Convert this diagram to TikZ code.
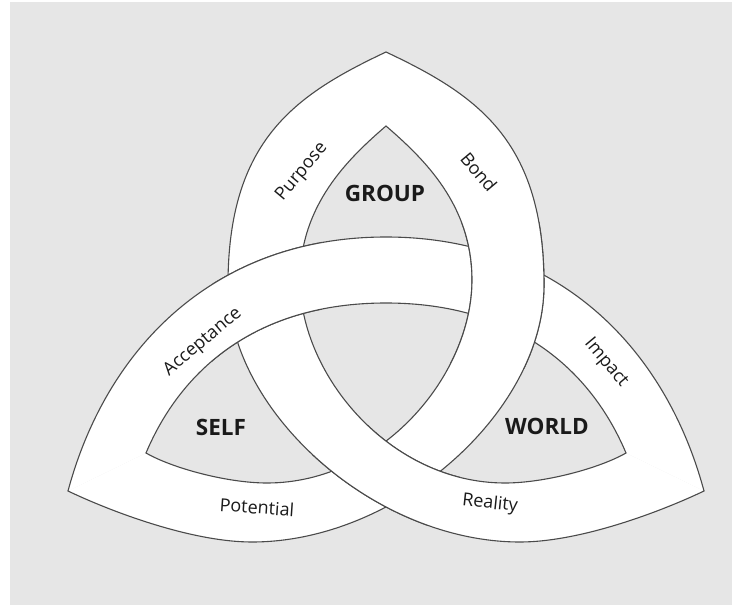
\documentclass[tikz,border=0pt]{standalone}
\usepackage{fontspec}
\setmainfont{Open Sans}[Kerning=Off]
\definecolor{bggray}{HTML}{E6E6E6}
\definecolor{linegray}{HTML}{4A4A4A}
\definecolor{txt}{HTML}{1A1A1A}
% curves (image pixels, y downwards)
\def\Pout{(386,52) .. controls (295.5,94.7) and (228,140) .. (228,285) .. controls (228,411) and (374,542) .. (520,542) .. controls (580,542) and (660,512) .. (704,491)}
\def\PinR{(626,453) .. controls (600,468) and (545,483) .. (505,483) .. controls (390,483) and (300,375) .. (300,280) .. controls (300,205) and (348.1,158.7) .. (386,126)}
\def\Bout{(386,52) .. controls (476.5,94.7) and (544,140) .. (544,285) .. controls (544,411) and (398,542) .. (252,542) .. controls (192,542) and (112,512) .. (68,491)}
\def\BinR{(146,453) .. controls (172,468) and (227,483) .. (267,483) .. controls (382,483) and (472,375) .. (472,280) .. controls (472,205) and (423.9,158.7) .. (386,126)}
\def\Aout{(68,491) .. controls (107,346) and (216,237) .. (386,237) .. controls (556,237) and (665,346) .. (704,491)}
\def\AinR{(626,453) .. controls (591,370) and (516,303) .. (386,303) .. controls (256,303) and (181,370) .. (146,453)}
\newcommand\myband[2]{\edef\mytmpcmd{\noexpand\fill[bandfill] #1 -- #2 -- cycle;}\mytmpcmd}
\newcommand\mycurve[1]{\edef\mytmpcmd{\noexpand\draw[bandline] #1;}\mytmpcmd}
\tikzset{
  bandfill/.style={fill=white},
  bandline/.style={draw=linegray, line width=1.1pt, line cap=round, line join=round},
  lbl/.style={font=\fontsize{18}{20}\selectfont, text=txt, inner sep=0pt},
  big/.style={font=\fontsize{22.5}{24}\selectfont\bfseries, text=txt, inner sep=0pt}
}
\begin{document}
\begin{tikzpicture}[x=1pt,y=-1pt]
\useasboundingbox (0,0) rectangle (732,605);
\fill[white] (0,0) rectangle (732,605);
\fill[bggray] (10,2) rectangle (732,605);
% bands
\myband{\Pout}{\PinR}
\myband{\Bout}{\BinR}
\myband{\Aout}{\AinR}
\mycurve{\Pout}
\mycurve{\PinR}
\mycurve{\Bout}
\mycurve{\BinR}
\mycurve{\Aout}
\mycurve{\AinR}
% left crossing: Acceptance over Purpose
\begin{scope}
\clip (212,222) rectangle (322,368);
\myband{\Aout}{\AinR}
\mycurve{\Aout}
\mycurve{\AinR}
\end{scope}
% right crossing: Bond over Impact
\begin{scope}
\clip (450,222) rectangle (560,368);
\myband{\Bout}{\BinR}
\mycurve{\Bout}
\mycurve{\BinR}
\end{scope}
% bottom crossing: Reality over Potential
\begin{scope}
\clip (312,425) rectangle (460,525);
\myband{\Pout}{\PinR}
\mycurve{\Pout}
\mycurve{\PinR}
\end{scope}
% labels
\node[lbl, rotate=50] (purpose) at (302,172) {Purpose};
\node[lbl, rotate=-50] (bond) at (479,172) {Bond};
\node[lbl, rotate=40] (accept) at (203,342) {Acceptance};
\node[lbl, rotate=-50] (impact) at (606,363) {Impact};
\node[lbl, rotate=-4] (potential) at (257,507) {Potential};
\node[lbl, rotate=-6] (reality) at (490,504) {Reality};
\node[big] (group) at (385,193) {GROUP};
\node[big] (self) at (221,427) {SELF};
\node[big] (world) at (547,426) {WORLD};
\end{tikzpicture}
\end{document}
